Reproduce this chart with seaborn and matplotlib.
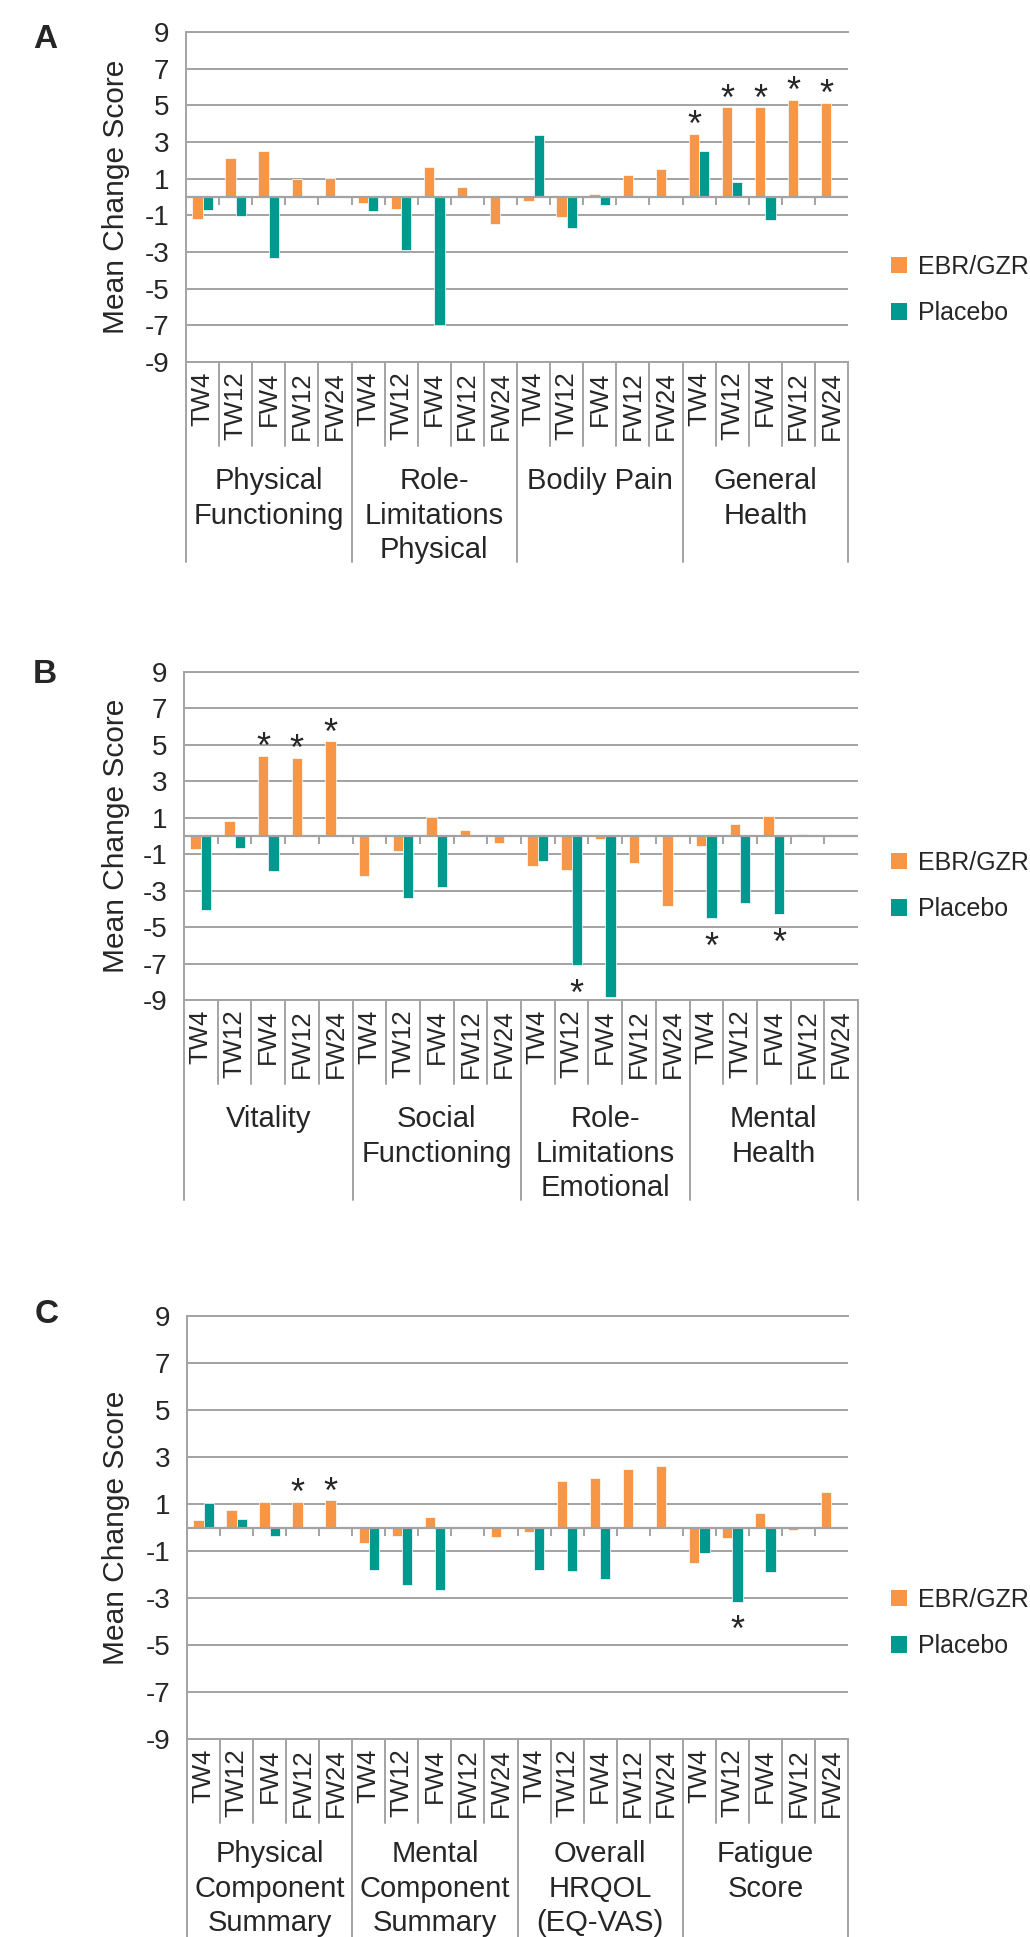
import numpy as np
import pandas as pd
import matplotlib
matplotlib.use("Agg")
import matplotlib.pyplot as plt
import matplotlib.transforms as mtransforms
from matplotlib.patches import Patch
import seaborn as sns

sns.set_style("white")
plt.rcParams['font.family'] = ['Liberation Sans', 'DejaVu Sans']
plt.rcParams['axes.unicode_minus'] = False

nan = np.nan

# data
timepoints = ["TW4", "TW12", "FW4", "FW12", "FW24"]
treatments = ["EBR/GZR", "Placebo"]

groups_a = ["Physical\nFunctioning", "Role-\nLimitations\nPhysical", "Bodily Pain", "General\nHealth"]
ebr_a = [-1.2, 2.1, 2.5, 1.0, 1.05,
         -0.3, -0.65, 1.65, 0.55, -1.45,
         -0.2, -1.1, 0.15, 1.2, 1.5,
         3.45, 4.9, 4.9, 5.3, 5.15]
pbo_a = [-0.7, -1.05, -3.3, nan, nan,
         -0.75, -2.9, -7.0, nan, nan,
         3.4, -1.7, -0.45, nan, nan,
         2.5, 0.8, -1.25, nan, nan]
sig_ebr_a = [15, 16, 17, 18, 19]
sig_pbo_a = []

groups_b = ["Vitality", "Social\nFunctioning", "Role-\nLimitations\nEmotional", "Mental\nHealth"]
ebr_b = [-0.7, 0.85, 4.4, 4.3, 5.2,
         -2.2, -0.85, 1.05, 0.35, -0.4,
         -1.65, -1.85, -0.15, -1.5, -3.85,
         -0.55, 0.65, 1.1, 0.1, nan]
pbo_b = [-4.05, -0.65, -1.9, nan, nan,
         nan, -3.4, -2.8, nan, nan,
         -1.35, -7.1, -8.85, nan, nan,
         -4.5, -3.65, -4.3, nan, nan]
sig_ebr_b = [2, 3, 4]
sig_pbo_b = [11, 15, 17]

groups_c = ["Physical\nComponent\nSummary", "Mental\nComponent\nSummary", "Overall\nHRQOL\n(EQ-VAS)", "Fatigue\nScore"]
ebr_c = [0.3, 0.75, 1.1, 1.1, 1.15,
         -0.65, -0.35, 0.45, nan, -0.4,
         -0.2, 2.0, 2.1, 2.5, 2.6,
         -1.5, -0.45, 0.6, -0.1, 1.5]
pbo_c = [1.05, 0.35, -0.35, nan, nan,
         -1.8, -2.45, -2.65, nan, nan,
         -1.8, -1.85, -2.2, nan, nan,
         -1.1, -3.15, -1.9, nan, nan]
sig_ebr_c = [3, 4]
sig_pbo_c = [16]

colors = {"EBR/GZR": "#F79646", "Placebo": "#009990"}
gray = "#A3A3A3"

W, H = 1030, 1937
fig = plt.figure(figsize=(W / 100, H / 100), dpi=100)


def make_axes(left, right, top, bottom):
    return fig.add_axes([left / W, 1 - bottom / H, (right - left) / W, (bottom - top) / H])


def draw_panel(ax, groups, ebr, pbo, sig_ebr, sig_pbo, letter, letter_xy, legend_xy, box,
               label_top=105):
    left, right, top, bottom = box
    h_px = bottom - top
    w_px = right - left
    slots = [str(i) for i in range(len(ebr))]
    df = pd.DataFrame({
        "slot": slots * 2,
        "treatment": ["EBR/GZR"] * len(ebr) + ["Placebo"] * len(pbo),
        "value": list(ebr) + list(pbo),
    })
    sns.barplot(data=df, x="slot", y="value", hue="treatment", order=slots,
                hue_order=treatments, palette=colors, width=0.62, errorbar=None,
                edgecolor="white", linewidth=0.5, saturation=1, legend=False, ax=ax)

    n = len(slots)
    ax.set_xlim(-0.5, n - 0.5)
    ax.set_ylim(-9, 9)
    ax.set_yticks(np.arange(-9, 10, 2))
    ax.yaxis.grid(True, color=gray, lw=1.4)
    ax.set_axisbelow(True)
    ax.spines["right"].set_visible(False)
    for s in ["left", "top", "bottom"]:
        ax.spines[s].set_color(gray)
        ax.spines[s].set_linewidth(1.4)
    ax.tick_params(axis="y", length=7, width=1.4, color=gray, labelsize=20, pad=5)
    ax.set_ylabel("Mean Change Score", fontsize=21.5, va="center")
    ax.yaxis.set_label_coords((116 - left) / w_px, 0.5)

    ax.set_xlabel("")
    ax.set_xticks(range(n))
    ax.set_xticklabels(timepoints * len(groups), rotation=90, fontsize=18.5)
    ax.tick_params(axis="x", length=0, pad=7)

    # zero line with small tick marks between categories
    ax.axhline(0, color=gray, lw=1.6, zorder=3)
    bounds = np.arange(n + 1) - 0.5
    tick = 8 / h_px * 18
    ax.vlines(bounds[1:-1], -tick, 0, color=gray, lw=1.4, zorder=3)

    # table-like category separators below the axis
    trans = mtransforms.blended_transform_factory(ax.transData, ax.transAxes)
    for i, b in enumerate(bounds):
        length = 200 if i % 5 == 0 else 84
        ax.plot([b, b], [0, -length / h_px], transform=trans, clip_on=False,
                color=gray, lw=1.4)
    for g, label in enumerate(groups):
        ax.text(g * 5 + 2, -label_top / h_px, label, transform=trans, ha="center", va="top",
                fontsize=21, linespacing=1.3)

    # significance stars
    for i in sig_ebr:
        v = ebr[i]
        off = 7 if v >= 0 else -30
        ax.annotate("*", xy=(i - 0.155, v), xytext=(0, off), textcoords="offset pixels",
                    ha="center", va="center", fontsize=26)
    for i in sig_pbo:
        v = pbo[i]
        off = 7 if v >= 0 else -30
        ax.annotate("*", xy=(i + 0.155, v), xytext=(0, off), textcoords="offset pixels",
                    ha="center", va="center", fontsize=26)

    fig.text(letter_xy[0] / W, 1 - letter_xy[1] / H, letter, fontsize=24,
             fontweight="bold", va="baseline", ha="left")

    handles = [Patch(facecolor=colors[t], edgecolor="none") for t in treatments]
    ax.legend(handles, treatments, loc="center left", frameon=False, fontsize=18,
              handlelength=0.62, handleheight=0.62, handletextpad=0.45,
              labelspacing=0.9, borderpad=0, borderaxespad=0,
              bbox_to_anchor=(legend_xy[0] / W, 1 - legend_xy[1] / H),
              bbox_transform=fig.transFigure)


box_a = (186, 848, 32, 362)
box_b = (184, 858, 672, 1000)
box_c = (187, 848, 1316, 1739)

ax_a = make_axes(*box_a)
draw_panel(ax_a, groups_a, ebr_a, pbo_a, sig_ebr_a, sig_pbo_a, "A", (33, 48), (891, 290), box_a)
ax_b = make_axes(*box_b)
draw_panel(ax_b, groups_b, ebr_b, pbo_b, sig_ebr_b, sig_pbo_b, "B", (33, 683), (891, 886), box_b)
ax_c = make_axes(*box_c)
draw_panel(ax_c, groups_c, ebr_c, pbo_c, sig_ebr_c, sig_pbo_c, "C", (35, 1323), (891, 1623), box_c,
           label_top=101)

fig.savefig("out.png", dpi=100)
